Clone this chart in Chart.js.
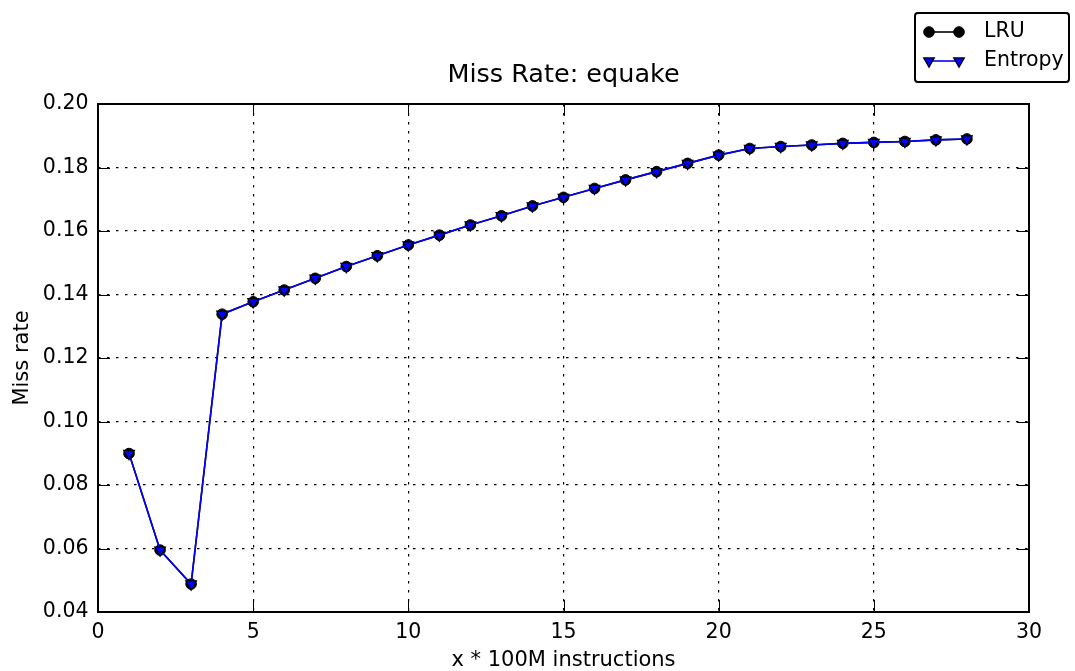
<!DOCTYPE html>
<html>
<head>
<meta charset="utf-8">
<title>Miss Rate: equake</title>
<script src="https://cdn.jsdelivr.net/npm/chart.js@4.4.1/dist/chart.umd.min.js"></script>
<style>
  html, body { margin: 0; padding: 0; background: #fff; }
  #wrap { width: 1075px; height: 671px; position: relative; }
</style>
</head>
<body>
<div id="wrap"><canvas id="missChart"></canvas></div>
<script>
// sample index (x * 100M instructions)
var STEPS = [1, 2, 3, 4, 5, 6, 7, 8, 9, 10, 11, 12, 13, 14,
             15, 16, 17, 18, 19, 20, 21, 22, 23, 24, 25, 26, 27, 28];

var LRU_MISS = [0.0899, 0.0595, 0.0488, 0.1338, 0.1377, 0.1414, 0.1451, 0.1488,
                0.1522, 0.1556, 0.1587, 0.1619, 0.1648, 0.1679, 0.1706, 0.1734,
                0.1761, 0.1787, 0.1813, 0.1839, 0.1860, 0.1866, 0.1871, 0.1876,
                0.1879, 0.1882, 0.1887, 0.1890];

var ENTROPY_MISS = [0.0899, 0.0595, 0.0488, 0.1338, 0.1377, 0.1414, 0.1451, 0.1488,
                    0.1522, 0.1556, 0.1587, 0.1619, 0.1648, 0.1679, 0.1706, 0.1734,
                    0.1761, 0.1787, 0.1813, 0.1839, 0.1860, 0.1866, 0.1871, 0.1876,
                    0.1879, 0.1882, 0.1887, 0.1890];

var X_TICKS = [0, 5, 10, 15, 20, 25, 30];
var Y_TICKS = [0.04, 0.06, 0.08, 0.10, 0.12, 0.14, 0.16, 0.18, 0.20];

var FONT = "'DejaVu Sans', 'Liberation Sans', sans-serif";

function toPoints(values) {
  return STEPS.map(function (s, i) { return { x: s, y: values[i] }; });
}

// matplotlib-like frame with inward tick marks on all four sides
var framePlugin = {
  id: "frame",
  afterDatasetsDraw: function (chart) {
    var ctx = chart.ctx;
    var a = chart.chartArea;
    var xs = chart.scales.x;
    var ys = chart.scales.y;
    var len = 12;
    ctx.save();
    ctx.strokeStyle = "#000";
    ctx.lineWidth = 1;
    ctx.beginPath();
    X_TICKS.forEach(function (v) {
      var px = Math.round(xs.getPixelForValue(v)) + 0.5;
      ctx.moveTo(px, a.bottom); ctx.lineTo(px, a.bottom - len);
      ctx.moveTo(px, a.top); ctx.lineTo(px, a.top + len);
    });
    Y_TICKS.forEach(function (v) {
      var py = Math.round(ys.getPixelForValue(v)) + 0.5;
      ctx.moveTo(a.left, py); ctx.lineTo(a.left + len, py);
      ctx.moveTo(a.right, py); ctx.lineTo(a.right - len, py);
    });
    ctx.stroke();
    ctx.lineWidth = 2;
    ctx.strokeRect(a.left, a.top, a.right - a.left, a.bottom - a.top);
    ctx.restore();
  }
};

// legend box in the top-right corner: short line with a marker at each end
var legendPlugin = {
  id: "lineLegend",
  afterDraw: function (chart) {
    var ctx = chart.ctx;
    var box = { l: 915, t: 13, r: 1069, b: 82 };
    var rows = [32, 61];
    var order = [1, 0]; // LRU first, Entropy second
    ctx.save();
    ctx.fillStyle = "#fff";
    ctx.strokeStyle = "#000";
    ctx.lineWidth = 2;
    ctx.beginPath();
    ctx.roundRect(box.l, box.t, box.r - box.l, box.b - box.t, 3);
    ctx.fill();
    ctx.stroke();

    order.forEach(function (di, row) {
      var ds = chart.data.datasets[di];
      var y = rows[row];
      ctx.strokeStyle = ds.borderColor;
      ctx.lineWidth = ds.borderWidth;
      ctx.beginPath();
      ctx.moveTo(929, y);
      ctx.lineTo(959, y);
      ctx.stroke();
      [929, 959].forEach(function (x) {
        ctx.fillStyle = ds.pointBackgroundColor;
        ctx.strokeStyle = ds.pointBorderColor;
        ctx.lineWidth = ds.pointBorderWidth;
        Chart.helpers.drawPoint(ctx, {
          pointStyle: ds.pointStyle,
          radius: ds.pointRadius,
          rotation: ds.pointRotation || 0,
          borderWidth: ds.pointBorderWidth
        }, x, y);
      });
      ctx.fillStyle = "#000";
      ctx.font = "20.5px " + FONT;
      ctx.textAlign = "left";
      ctx.textBaseline = "middle";
      ctx.fillText(ds.label, 984, y);
    });
    ctx.restore();
  }
};

var ctx = document.getElementById("missChart").getContext("2d");

new Chart(ctx, {
  type: "line",
  data: {
    datasets: [
      {
        label: "Entropy",
        data: toPoints(ENTROPY_MISS),
        order: 0,
        borderColor: "#0000ff",
        borderWidth: 1.6,
        pointStyle: "triangle",
        pointRotation: 180,
        pointRadius: 6.2,
        pointBackgroundColor: "#0000ff",
        pointBorderColor: "#000",
        pointBorderWidth: 1.2,
        tension: 0
      },
      {
        label: "LRU",
        data: toPoints(LRU_MISS),
        order: 1,
        borderColor: "#000",
        borderWidth: 1.6,
        pointStyle: "circle",
        pointRadius: 5.3,
        pointBackgroundColor: "#000",
        pointBorderColor: "#000",
        pointBorderWidth: 1,
        tension: 0
      }
    ]
  },
  options: {
    responsive: true,
    maintainAspectRatio: false,
    animation: false,
    devicePixelRatio: 1,
    layout: { padding: { top: 0, right: 46, bottom: 0, left: 0 } },
    plugins: {
      legend: { display: false },
      tooltip: { enabled: false },
      title: {
        display: true,
        fullSize: false,
        text: "Miss Rate: equake",
        color: "#000",
        font: { family: FONT, size: 25.5, weight: "normal", lineHeight: 1 },
        padding: { top: 63, bottom: 15.5 }
      }
    },
    scales: {
      x: {
        type: "linear",
        min: X_TICKS[0],
        max: X_TICKS[X_TICKS.length - 1],
        afterBuildTicks: function (scale) {
          scale.ticks = X_TICKS.map(function (v) { return { value: v }; });
        },
        afterFit: function (scale) { scale.height = 59; },
        ticks: {
          color: "#000",
          padding: 8,
          maxRotation: 0,
          font: { family: FONT, size: 20.5 },
          callback: function (v) { return String(v); }
        },
        grid: { color: "#000", lineWidth: 1.2, drawTicks: false },
        border: { display: false, dash: [2.5, 6.5] },
        title: {
          display: true,
          text: "x * 100M instructions",
          color: "#000",
          font: { family: FONT, size: 21, lineHeight: 1 },
          padding: { top: 0, bottom: 0 }
        }
      },
      y: {
        min: Y_TICKS[0],
        max: Y_TICKS[Y_TICKS.length - 1],
        afterBuildTicks: function (scale) {
          scale.ticks = Y_TICKS.map(function (v) { return { value: v }; });
        },
        afterFit: function (scale) { scale.width = 98; },
        ticks: {
          color: "#000",
          padding: 9.5,
          font: { family: FONT, size: 20.5 },
          callback: function (v) { return Number(v).toFixed(2); }
        },
        grid: { color: "#000", lineWidth: 1.2, drawTicks: false },
        border: { display: false, dash: [2.5, 6.5] },
        title: {
          display: true,
          text: "Miss rate",
          color: "#000",
          font: { family: FONT, size: 21, lineHeight: 1 },
          padding: { top: 12, bottom: 0 }
        }
      }
    }
  },
  plugins: [framePlugin, legendPlugin]
});
</script>
</body>
</html>
